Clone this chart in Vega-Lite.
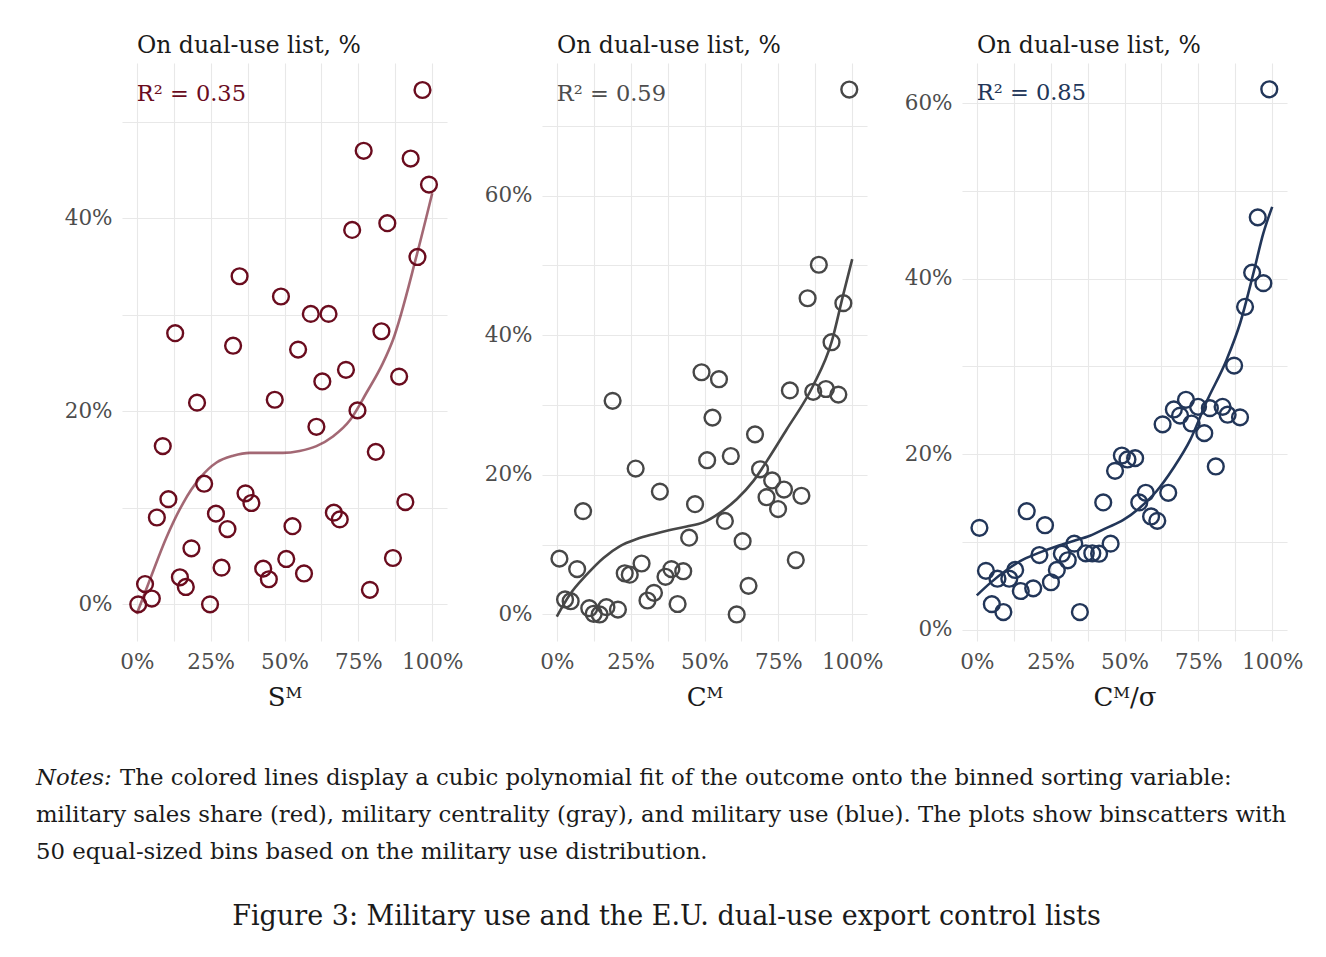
{
  "$schema": "https://vega.github.io/schema/vega-lite/v6.json",
  "padding": {"left": 36, "top": 33, "right": 0, "bottom": 10},
  "background": "white",
  "config": {
    "font": "DejaVu Serif",
    "view": {"stroke": null},
    "axis": {
      "grid": true, "gridColor": "#e8e8e8", "gridWidth": 1.1,
      "domain": false, "ticks": false,
      "labelFont": "DejaVu Serif", "labelFontSize": 21.5, "labelColor": "#4d4d4d",
      "labelPadding": 10, "labelOverlap": false, "labelFlush": false,
      "titleFont": "DejaVu Serif", "titleFontSize": 26, "titleFontWeight": "normal",
      "titleColor": "#1a1a1a", "titlePadding": 11.5
    },
    "title": {"font": "DejaVu Serif", "fontWeight": "normal", "color": "#1a1a1a"}
  },
  "spacing": 56,
  "title": {
    "text": "Figure 3: Military use and the E.U. dual-use export control lists",
    "orient": "bottom", "anchor": "middle", "fontSize": 27, "offset": 27, "dx": -3
  },
  "vconcat": [
    {
      "spacing": 95,
      "bounds": "flush",
      "hconcat": [
        {
          "width": 325, "height": 578,
          "title": {"text": "On dual-use list, %", "anchor": "start", "frame": "group", "dx": 15, "fontSize": 23.5, "offset": 6},
          "data": {"values": [
            {"x":0.5,"y":0.0},{"x":2.8,"y":2.1},{"x":5.1,"y":0.6},{"x":6.8,"y":9.0},{"x":8.8,"y":16.4},
            {"x":10.7,"y":10.9},{"x":13.0,"y":28.1},{"x":14.6,"y":2.8},{"x":16.6,"y":1.8},{"x":18.5,"y":5.8},
            {"x":20.4,"y":20.9},{"x":22.8,"y":12.5},{"x":24.8,"y":0.0},{"x":26.8,"y":9.4},{"x":28.7,"y":3.8},
            {"x":30.7,"y":7.8},{"x":32.6,"y":26.8},{"x":34.8,"y":34.0},{"x":36.8,"y":11.5},{"x":38.8,"y":10.5},
            {"x":42.8,"y":3.7},{"x":44.7,"y":2.6},{"x":46.7,"y":21.2},{"x":48.8,"y":31.9},{"x":50.6,"y":4.7},
            {"x":52.7,"y":8.1},{"x":54.6,"y":26.4},{"x":56.6,"y":3.2},{"x":58.9,"y":30.1},{"x":60.8,"y":18.4},
            {"x":62.8,"y":23.1},{"x":64.9,"y":30.1},{"x":66.7,"y":9.5},{"x":68.7,"y":8.8},{"x":70.8,"y":24.3},
            {"x":72.9,"y":38.8},{"x":74.7,"y":20.1},{"x":76.8,"y":47.0},{"x":78.9,"y":1.5},{"x":80.9,"y":15.8},
            {"x":82.8,"y":28.3},{"x":84.8,"y":39.5},{"x":86.7,"y":4.8},{"x":88.8,"y":23.6},{"x":90.9,"y":10.6},
            {"x":92.7,"y":46.2},{"x":95.0,"y":36.0},{"x":96.7,"y":53.3},{"x":98.9,"y":43.5}
          ]},
          "encoding": {
            "x": {"field": "x", "type": "quantitative",
              "scale": {"domain": [-5, 105], "nice": false, "zero": false},
              "axis": {"values": [0,12.5,25,37.5,50,62.5,75,87.5,100], "labelExpr": "datum.value % 25 === 0 ? datum.value + '%' : ''", "title": "Sᴹ"}},
            "y": {"field": "y", "type": "quantitative",
              "scale": {"domain": [-3.8, 56.1], "nice": false, "zero": false},
              "axis": {"values": [0,10,20,30,40,50], "labelExpr": "datum.value % 20 === 0 ? datum.value + '%' : ''", "title": null}}
          },
          "layer": [
            {"mark": {"type": "point", "shape": "circle", "filled": false, "color": "#6a0c1e", "size": 250, "strokeWidth": 2.4, "opacity": 1}},
            {"data": {"values": [
              {"x":0,"y":-1.0},{"x":4.5,"y":2.6},{"x":10,"y":6.9},{"x":15.7,"y":10.5},{"x":21.4,"y":13.1},
              {"x":27,"y":14.7},{"x":32.6,"y":15.4},{"x":38.3,"y":15.7},{"x":44,"y":15.7},{"x":49.5,"y":15.7},
              {"x":55.1,"y":15.9},{"x":60.8,"y":16.4},{"x":66.4,"y":17.4},{"x":72.2,"y":19.1},{"x":77.7,"y":21.9},
              {"x":83.3,"y":25.0},{"x":86.7,"y":27.4},{"x":94.6,"y":36.0},{"x":100,"y":42.6}
            ]},
             "mark": {"type": "line", "color": "#6a0c1e", "opacity": 0.62, "strokeWidth": 2.6, "interpolate": "monotone"}},
            {"data": {"values": [{"x": 0, "y": 52.9, "label": "R² = 0.35"}]},
             "mark": {"type": "text", "align": "left", "baseline": "middle", "fontSize": 22.5, "color": "#6a0c1e"},
             "encoding": {"text": {"field": "label"}}}
          ]
        },
        {
          "width": 325, "height": 578,
          "title": {"text": "On dual-use list, %", "anchor": "start", "frame": "group", "dx": 15, "fontSize": 23.5, "offset": 6},
          "data": {"values": [
            {"x":0.9,"y":8.0},{"x":2.8,"y":2.15},{"x":4.7,"y":1.9},{"x":6.9,"y":6.5},{"x":8.9,"y":14.8},
            {"x":11.0,"y":0.9},{"x":12.5,"y":0.1},{"x":14.5,"y":0.0},{"x":16.8,"y":1.05},{"x":18.9,"y":30.6},
            {"x":20.7,"y":0.7},{"x":23.0,"y":5.9},{"x":24.7,"y":5.7},{"x":26.7,"y":20.9},{"x":28.7,"y":7.3},
            {"x":30.7,"y":2.0},{"x":32.9,"y":3.1},{"x":34.9,"y":17.6},{"x":36.8,"y":5.4},{"x":38.8,"y":6.5},
            {"x":40.9,"y":1.5},{"x":42.8,"y":6.2},{"x":44.8,"y":11.0},{"x":46.8,"y":15.8},{"x":49.0,"y":34.7},
            {"x":50.9,"y":22.1},{"x":52.7,"y":28.2},{"x":54.9,"y":33.7},{"x":56.9,"y":13.4},{"x":58.9,"y":22.7},
            {"x":60.9,"y":0.0},{"x":62.9,"y":10.5},{"x":64.9,"y":4.1},{"x":67.1,"y":25.8},{"x":68.8,"y":20.8},
            {"x":71.0,"y":16.8},{"x":72.9,"y":19.2},{"x":74.9,"y":15.1},{"x":76.9,"y":17.9},{"x":78.9,"y":32.1},
            {"x":80.9,"y":7.8},{"x":82.8,"y":17.0},{"x":84.9,"y":45.3},{"x":86.8,"y":31.9},{"x":88.7,"y":50.1},
            {"x":91.1,"y":32.3},{"x":93.0,"y":39.0},{"x":95.3,"y":31.5},{"x":97.0,"y":44.6},{"x":99.0,"y":75.2}
          ]},
          "encoding": {
            "x": {"field": "x", "type": "quantitative",
              "scale": {"domain": [-5, 105], "nice": false, "zero": false},
              "axis": {"values": [0,12.5,25,37.5,50,62.5,75,87.5,100], "labelExpr": "datum.value % 25 === 0 ? datum.value + '%' : ''", "title": "Cᴹ"}},
            "y": {"field": "y", "type": "quantitative",
              "scale": {"domain": [-3.8, 79.0], "nice": false, "zero": false},
              "axis": {"values": [0,10,20,30,40,50,60,70], "labelExpr": "datum.value % 20 === 0 ? datum.value + '%' : ''", "title": null}}
          },
          "layer": [
            {"mark": {"type": "point", "shape": "circle", "filled": false, "color": "#474747", "size": 250, "strokeWidth": 2.4, "opacity": 1}},
            {"data": {"values": [
              {"x":0,"y":-0.3},{"x":4.5,"y":2.9},{"x":10.1,"y":5.7},{"x":15.8,"y":8.1},{"x":21.4,"y":9.8},
              {"x":27.1,"y":10.8},{"x":32.7,"y":11.5},{"x":38.3,"y":12.1},{"x":44,"y":12.6},{"x":49.6,"y":13.2},
              {"x":55.3,"y":14.6},{"x":60.9,"y":16.5},{"x":66.5,"y":19.1},{"x":72.2,"y":22.7},{"x":77.8,"y":26.5},
              {"x":86.8,"y":32.8},{"x":93,"y":39.0},{"x":97,"y":45.9},{"x":100,"y":50.9}
            ]},
             "mark": {"type": "line", "color": "#474747", "strokeWidth": 2.6, "interpolate": "monotone"}},
            {"data": {"values": [{"x": 0, "y": 74.6, "label": "R² = 0.59"}]},
             "mark": {"type": "text", "align": "left", "baseline": "middle", "fontSize": 22.5, "color": "#4d4d4d"},
             "encoding": {"text": {"field": "label"}}}
          ]
        },
        {
          "width": 325, "height": 578,
          "title": {"text": "On dual-use list, %", "anchor": "start", "frame": "group", "dx": 15, "fontSize": 23.5, "offset": 6},
          "data": {"values": [
            {"x":0.9,"y":11.6},{"x":3.1,"y":6.7},{"x":5.1,"y":2.9},{"x":7.0,"y":5.8},{"x":9.0,"y":2.0},
            {"x":11.0,"y":5.8},{"x":13.0,"y":6.8},{"x":14.9,"y":4.4},{"x":16.9,"y":13.5},{"x":19.1,"y":4.7},
            {"x":21.2,"y":8.5},{"x":23.1,"y":11.9},{"x":25.1,"y":5.4},{"x":27.1,"y":6.8},{"x":28.8,"y":8.65},
            {"x":30.8,"y":7.9},{"x":33.0,"y":9.8},{"x":34.9,"y":2.0},{"x":36.9,"y":8.7},{"x":39.1,"y":8.7},
            {"x":41.4,"y":8.65},{"x":42.8,"y":14.5},{"x":45.3,"y":9.8},{"x":46.8,"y":18.1},{"x":49.1,"y":19.85},
            {"x":51.0,"y":19.4},{"x":53.6,"y":19.55},{"x":55.0,"y":14.5},{"x":57.2,"y":15.6},{"x":59.0,"y":12.9},
            {"x":61.1,"y":12.4},{"x":62.9,"y":23.4},{"x":64.8,"y":15.6},{"x":66.7,"y":25.1},{"x":68.8,"y":24.4},
            {"x":70.8,"y":26.2},{"x":72.7,"y":23.5},{"x":74.9,"y":25.4},{"x":77.0,"y":22.4},{"x":78.9,"y":25.25},
            {"x":80.9,"y":18.6},{"x":83.2,"y":25.4},{"x":84.9,"y":24.5},{"x":87.1,"y":30.1},{"x":89.1,"y":24.2},
            {"x":90.8,"y":36.8},{"x":93.2,"y":40.7},{"x":95.1,"y":47.0},{"x":97.0,"y":39.5},{"x":99.0,"y":61.6}
          ]},
          "encoding": {
            "x": {"field": "x", "type": "quantitative",
              "scale": {"domain": [-5, 105], "nice": false, "zero": false},
              "axis": {"values": [0,12.5,25,37.5,50,62.5,75,87.5,100], "labelExpr": "datum.value % 25 === 0 ? datum.value + '%' : ''", "title": "Cᴹ/σ"}},
            "y": {"field": "y", "type": "quantitative",
              "scale": {"domain": [-1.3, 64.6], "nice": false, "zero": false},
              "axis": {"values": [0,10,20,30,40,50,60], "labelExpr": "datum.value % 20 === 0 ? datum.value + '%' : ''", "title": null}}
          },
          "layer": [
            {"mark": {"type": "point", "shape": "circle", "filled": false, "color": "#223659", "size": 250, "strokeWidth": 2.4, "opacity": 1}},
            {"data": {"values": [
              {"x":0,"y":3.9},{"x":4.5,"y":5.3},{"x":10.1,"y":6.8},{"x":15.8,"y":8.0},{"x":21.4,"y":8.8},
              {"x":27.1,"y":9.5},{"x":32.7,"y":10.1},{"x":38.3,"y":10.7},{"x":44,"y":11.6},{"x":49.6,"y":12.5},
              {"x":55.2,"y":13.9},{"x":60.9,"y":15.8},{"x":66.5,"y":18.4},{"x":72.2,"y":21.6},{"x":77.8,"y":26.0},
              {"x":84.6,"y":30.8},{"x":89.1,"y":34.9},{"x":93.6,"y":40.6},{"x":97,"y":45.2},{"x":100,"y":48.2}
            ]},
             "mark": {"type": "line", "color": "#223659", "strokeWidth": 2.6, "interpolate": "monotone"}},
            {"data": {"values": [{"x": 0, "y": 61.2, "label": "R² = 0.85"}]},
             "mark": {"type": "text", "align": "left", "baseline": "middle", "fontSize": 22.5, "color": "#223659"},
             "encoding": {"text": {"field": "label"}}}
          ]
        }
      ]
    },
    {
      "width": 1160, "height": 111,
      "data": {"values": [
        {"line": 1, "part": "lead", "col": 0, "text": "Notes:"},
        {"line": 1, "part": "first", "col": 0, "text": "The colored lines display a cubic polynomial fit of the outcome onto the binned sorting variable:"},
        {"line": 2, "part": "rest", "col": 0, "text": "military sales share (red), military centrality (gray), and military use (blue). The plots show binscatters with"},
        {"line": 3, "part": "rest", "col": 0, "text": "50 equal-sized bins based on the military use distribution."}
      ]},
      "encoding": {
        "x": {"field": "col", "type": "quantitative", "scale": {"domain": [0, 1]}, "axis": null},
        "y": {"field": "line", "type": "quantitative", "scale": {"domain": [0.5, 3.5], "reverse": true}, "axis": null},
        "text": {"field": "text"}
      },
      "layer": [
        {"transform": [{"filter": "datum.part === 'lead'"}],
         "mark": {"type": "text", "align": "left", "baseline": "alphabetic", "fontSize": 22.8, "fontStyle": "italic", "dx": -86, "color": "#1a1a1a"}},
        {"transform": [{"filter": "datum.part === 'first'"}],
         "mark": {"type": "text", "align": "left", "baseline": "alphabetic", "fontSize": 22.8, "dx": -2, "color": "#1a1a1a"}},
        {"transform": [{"filter": "datum.part === 'rest'"}],
         "mark": {"type": "text", "align": "left", "baseline": "alphabetic", "fontSize": 22.8, "dx": -86, "color": "#1a1a1a"}}
      ]
    }
  ]
}
